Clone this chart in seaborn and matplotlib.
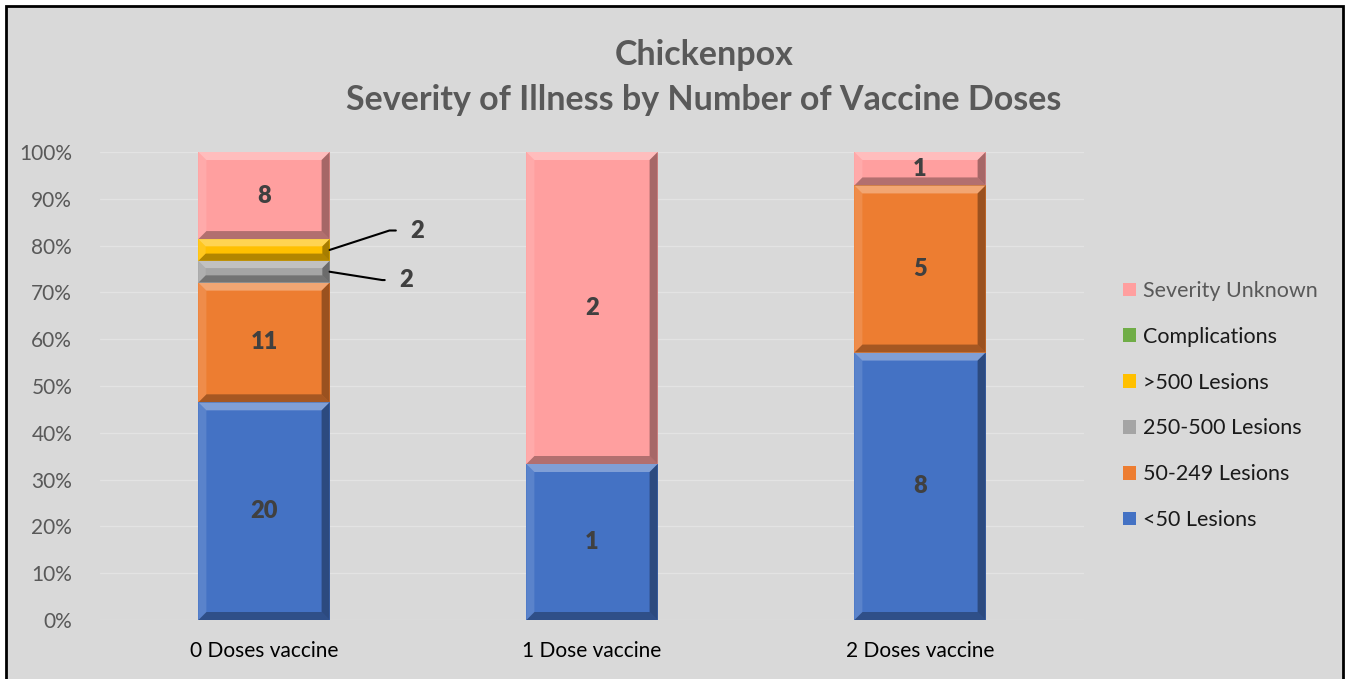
import numpy as np
import pandas as pd
import matplotlib
matplotlib.use("Agg")
import matplotlib.pyplot as plt
from matplotlib.patches import Rectangle, Polygon, Patch
from matplotlib.ticker import PercentFormatter
import seaborn as sns

# Case counts per dose group
doses = ["0 Doses vaccine", "1 Dose vaccine", "2 Doses vaccine"]
severity = ["<50 Lesions", "50-249 Lesions", "250-500 Lesions",
            ">500 Lesions", "Complications", "Severity Unknown"]
lt50 = [20, 1, 8]
l50_249 = [11, 0, 5]
l250_500 = [2, 0, 0]
gt500 = [2, 0, 0]
complications = [0, 0, 0]
unknown = [8, 2, 1]
colors = ["#4472C4", "#ED7D31", "#A5A5A5", "#FFC000", "#70AD47", "#FF9F9F"]

counts = pd.DataFrame([lt50, l50_249, l250_500, gt500, complications, unknown],
                      index=severity, columns=doses)
share = counts / counts.sum(axis=0)
top = share.cumsum(axis=0)
bottom = top - share

sns.set_theme(style="white")
plt.rcParams["font.family"] = ["Lato", "DejaVu Sans"]

W, H = 1349, 679
fig = plt.figure(figsize=(W / 100, H / 100), dpi=100)
fig.patch.set_facecolor("white")
fig.patches.append(Rectangle((6 / W, -0.01), (1343 - 6) / W, 1.01 - 6 / H,
                             transform=fig.transFigure, facecolor="#D9D9D9",
                             edgecolor="black", lw=2, zorder=-5))

ax = fig.add_axes([100 / W, 1 - 620 / H, 984 / W, 468 / H])
ax.set_facecolor("none")

# 100% stacked bars: draw cumulative heights from the top series downwards
bar_w = 0.4
for sev, col in zip(reversed(severity), reversed(colors)):
    sns.barplot(x=doses, y=top.loc[sev].values, color=col, width=bar_w,
                saturation=1, edgecolor="none", linewidth=0, ax=ax, zorder=2)

ax.set_xlim(-0.5, 2.5)
ax.set_ylim(0, 1)

# bevel shading on each visible segment
ax_bb = ax.get_window_extent()
px_x = ax_bb.width / 3.0
px_y = ax_bb.height / 1.0
bev = 8
bx, by0 = bev / px_x, bev / px_y
for i, d in enumerate(doses):
    x0, x1 = i - bar_w / 2, i + bar_w / 2
    for sev in severity:
        if counts.loc[sev, d] == 0:
            continue
        y0, y1 = bottom.loc[sev, d], top.loc[sev, d]
        by = min(by0, (y1 - y0) / 3)
        bxx = bx * by / by0
        shapes = [
            ([(x0, y1), (x1, y1), (x1 - bxx, y1 - by), (x0 + bxx, y1 - by)], "white", 0.32),
            ([(x0, y0), (x1, y0), (x1 - bxx, y0 + by), (x0 + bxx, y0 + by)], "black", 0.30),
            ([(x0, y0), (x0, y1), (x0 + bxx, y1 - by), (x0 + bxx, y0 + by)], "white", 0.12),
            ([(x1, y0), (x1, y1), (x1 - bxx, y1 - by), (x1 - bxx, y0 + by)], "black", 0.35),
        ]
        for pts, c, a in shapes:
            ax.add_patch(Polygon(pts, closed=True, facecolor=c, alpha=a,
                                 edgecolor="none", zorder=3))

# value labels
callout = {">500 Lesions": (63, 14), "250-500 Lesions": (55, -6)}
for i, d in enumerate(doses):
    for sev in severity:
        n = counts.loc[sev, d]
        if n == 0:
            continue
        yc = (bottom.loc[sev, d] + top.loc[sev, d]) / 2
        if sev in callout:
            ax.annotate(str(n), xy=(i + bar_w / 2, yc), xytext=callout[sev],
                        textcoords="offset points", ha="center", va="center",
                        fontsize=17, fontweight="heavy", color="#404040",
                        arrowprops=dict(arrowstyle="-", color="black", lw=1.5,
                                        shrinkA=8, shrinkB=0,
                                        connectionstyle="angle,angleA=0,angleB=%d,rad=0"
                                        % (18 if callout[sev][1] > 0 else -9)),
                        zorder=5)
        else:
            ax.text(i, yc, str(n), ha="center", va="center", fontsize=17,
                    fontweight="heavy", color="#404040", zorder=5)

# axes styling
ax.yaxis.set_major_formatter(PercentFormatter(1.0, decimals=0))
ax.set_yticks(np.linspace(0, 1, 11))
ax.yaxis.grid(True, color="#E3E3E3", lw=1, zorder=0)
ax.set_axisbelow(True)
for s in ax.spines.values():
    s.set_visible(False)
ax.tick_params(axis="y", length=0, pad=20, labelsize=15, labelcolor="#595959")
ax.tick_params(axis="x", length=0, pad=15, labelsize=15, labelcolor="black")
ax.set_xlabel("")
ax.set_ylabel("")

# title
fig.text(0.522, 1 - 55 / H, "Chickenpox", ha="center", va="center",
         fontsize=24.5, fontweight="bold", color="#595959")
fig.text(0.522, 1 - 100 / H, "Severity of Illness by Number of Vaccine Doses",
         ha="center", va="center", fontsize=24.5, fontweight="bold", color="#595959")

# legend
handles = [Patch(facecolor=c, edgecolor="none") for c in colors][::-1]
labels = severity[::-1]
leg = fig.legend(handles, labels, loc="upper left",
                 bbox_to_anchor=(1123 / W, 1 - 281 / H), frameon=False,
                 fontsize=15.5, handlelength=0.6, handleheight=0.6,
                 handletextpad=0.35, labelspacing=1.2, borderpad=0,
                 borderaxespad=0)
for t in leg.get_texts():
    t.set_color("#595959" if t.get_text() == "Severity Unknown" else "#1A1A1A")

fig.savefig("out.png", dpi=100, facecolor=fig.get_facecolor())
